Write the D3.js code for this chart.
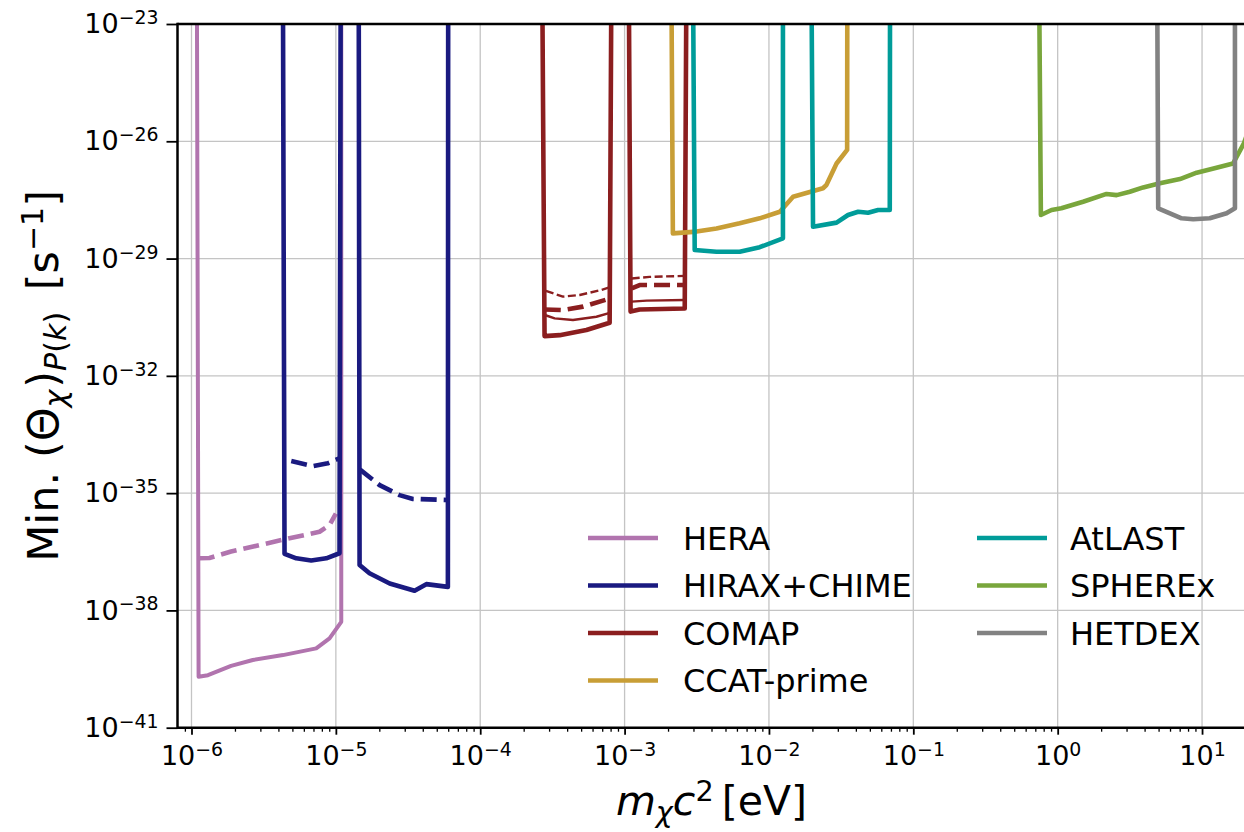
<!DOCTYPE html>
<html>
<head>
<meta charset="utf-8">
<script src="https://cdn.jsdelivr.net/npm/d3@7"></script>
<style>
  body { margin: 0; background: #fff; }
  svg { display: block; }
  text { font-family: 'DejaVu Sans', sans-serif; fill: #000; }
</style>
</head>
<body>
<svg id="chart"></svg>
<script>
/* global d3 */
const labels = ['HERA', 'HIRAX+CHIME', 'COMAP', 'CCAT-prime', 'AtLAST', 'SPHEREx', 'HETDEX']
const colors = ['#b174ae', '#1a1a80', '#8b1e1f', '#c89e36', '#009c99', '#79a63c', '#828282']

// [m c^2 in eV, min Theta in s^-1]; 1e-22 means the edge runs off the top
const heraSolid = [[1.09e-6, 1e-22], [1.12e-6, 2.0e-40], [1.30e-6, 2.2e-40], [1.88e-6, 3.8e-40], [2.66e-6, 5.4e-40],
  [4.30e-6, 7.2e-40], [7.31e-6, 1.07e-39], [9.04e-6, 1.93e-39], [1.09e-5, 5.1e-39], [1.09e-5, 1e-22]]
const heraDash = [[1.12e-6, 2.15e-37], [1.33e-6, 2.2e-37], [1.88e-6, 3.2e-37], [2.96e-6, 4.7e-37], [4.77e-6, 7.0e-37],
  [7.71e-6, 1.03e-36], [9.04e-6, 1.52e-36], [1.0e-5, 3.0e-36]]
const hiraxSolidA = [[4.30e-6, 1e-22], [4.41e-6, 2.8e-37], [5.32e-6, 2.15e-37], [6.75e-6, 1.9e-37], [8.58e-6, 2.15e-37],
  [1.06e-5, 2.9e-37], [1.08e-5, 1e-22]]
const hiraxDashA = [[4.91e-6, 6.6e-35], [6.93e-6, 4.9e-35], [8.8e-6, 5.8e-35], [1.06e-5, 7.8e-35]]
const hiraxSolidB = [[1.44e-5, 1e-22], [1.46e-5, 1.45e-37], [1.71e-5, 8.9e-38], [2.36e-5, 4.9e-38], [3.51e-5, 3.2e-38],
  [4.23e-5, 4.7e-38], [5.97e-5, 4.0e-38], [6.0e-5, 1e-22]]
const hiraxDashB = [[1.47e-5, 4.0e-35], [2.01e-5, 1.6e-35], [2.76e-5, 8.9e-36], [3.42e-5, 7.1e-36], [5.9e-5, 6.7e-36]]
const comapSolidA = [[2.69e-4, 1e-22], [2.79e-4, 1.04e-31], [3.55e-4, 1.1e-31], [5.44e-4, 1.49e-31], [7.88e-4, 2.29e-31], [8.1e-4, 1e-22]]
const comapThinA = [[2.8e-4, 3.6e-31], [3.28e-4, 2.96e-31], [4.39e-4, 2.68e-31], [6.38e-4, 3.25e-31], [7.9e-4, 4.1e-31]]
const comapDashA = [[2.8e-4, 5.0e-31], [3.74e-4, 4.8e-31], [5.15e-4, 5.9e-31], [7.9e-4, 9.5e-31]]
const comapThinDashA = [[2.85e-4, 1.5e-30], [3.74e-4, 1.06e-30], [4.89e-4, 1.17e-30], [6.9e-4, 1.57e-30], [7.9e-4, 1.85e-30]]
const comapSolidB = [[1.07e-3, 1e-22], [1.10e-3, 4.4e-31], [1.27e-3, 5.0e-31], [2.61e-3, 5.3e-31], [2.68e-3, 1e-22]]
const comapThinB = [[1.12e-3, 7.9e-31], [1.42e-3, 8.4e-31], [2.6e-3, 8.7e-31]]
const comapDashB = [[1.12e-3, 1.73e-30], [1.27e-3, 2.1e-30], [2.6e-3, 2.1e-30]]
const comapThinDashB = [[1.12e-3, 3.1e-30], [1.49e-3, 3.4e-30], [2.6e-3, 3.6e-30]]
const ccat = [[2.11e-3, 1e-22], [2.16e-3, 4.4e-29], [3.15e-3, 4.9e-29], [4.33e-3, 5.9e-29], [6.27e-3, 8.0e-29], [8.63e-3, 1.07e-28],
  [1.19e-2, 1.58e-28], [1.47e-2, 3.8e-28], [2.37e-2, 6.3e-28], [2.5e-2, 7.6e-28], [2.94e-2, 2.7e-27], [3.48e-2, 6.0e-27], [3.49e-2, 1e-22]]
const atlastA = [[2.98e-3, 1e-22], [3.06e-3, 1.65e-29], [4.33e-3, 1.5e-29], [6.27e-3, 1.5e-29], [8.63e-3, 1.95e-29], [1.25e-2, 3.3e-29], [1.25e-2, 1e-22]]
const atlastB = [[1.97e-2, 1e-22], [2.02e-2, 6.5e-29], [2.94e-2, 8.3e-29], [3.53e-2, 1.3e-28], [4.15e-2, 1.58e-28], [4.86e-2, 1.49e-28],
  [5.7e-2, 1.75e-28], [6.87e-2, 1.75e-28], [6.9e-2, 1e-22]]
const spherex = [[0.744, 1e-22], [0.765, 1.3e-28], [0.907, 1.75e-28], [1.06, 1.93e-28], [1.50, 2.84e-28], [2.18, 4.5e-28], [2.56, 4.2e-28],
  [3.16, 5.1e-28], [3.91, 6.6e-28], [5.11, 8.4e-28], [7.03, 1.08e-27], [9.18, 1.57e-27], [12.6, 2.1e-27], [16.4, 2.7e-27], [19.5, 8.9e-27], [22, 3e-26]]
const hetdex = [[4.89, 1e-22], [4.97, 1.93e-28], [7.22, 1.07e-28], [8.69, 1.01e-28], [11.3, 1.07e-28], [14.8, 1.44e-28], [16.9, 1.93e-28], [16.9, 1e-22]]

const xExps = [-6, -5, -4, -3, -2, -1, 0, 1]
const yExps = [-41, -38, -35, -32, -29, -26, -23]

const width = 1244
const height = 832
const margin = { top: 24, left: 177.5, bottom: 104.3, right: -1.5 }

const svg = d3.select('#chart').attr('width', width).attr('height', height)

const xScale = d3.scaleLog().domain([8e-7, 20]).range([margin.left, width - margin.right])
const yScale = d3.scaleLog().domain([1e-41, 1e-23]).range([height - margin.bottom, margin.top])
const x0 = margin.left
const x1 = width - margin.right
const y0 = height - margin.bottom
const y1 = margin.top

// grid
const xMajor = xExps.map(e => Math.pow(10, e))
const yMajor = yExps.map(e => Math.pow(10, e))
svg.append('g').selectAll('line').data(xMajor).join('line')
  .attr('x1', d => xScale(d)).attr('x2', d => xScale(d)).attr('y1', y0).attr('y2', y1)
  .attr('stroke', '#c4c4c4').attr('stroke-width', 1.3)
svg.append('g').selectAll('line').data(yMajor).join('line')
  .attr('x1', x0).attr('x2', x1).attr('y1', d => yScale(d)).attr('y2', d => yScale(d))
  .attr('stroke', '#c4c4c4').attr('stroke-width', 1.3)

// curves
svg.append('clipPath').attr('id', 'clip').append('rect')
  .attr('x', x0).attr('y', y1).attr('width', x1 - x0).attr('height', y0 - y1)

const thick = 4.6
const thin = 2.4
const longDash = '16,7'
const shortDash = '8,3.5'
const curves = [
  { d: heraSolid, s: 0, w: 4 }, { d: heraDash, s: 0, w: thick, dash: longDash },
  { d: hiraxSolidA, s: 1, w: thick }, { d: hiraxSolidB, s: 1, w: thick },
  { d: hiraxDashA, s: 1, w: thick, dash: longDash }, { d: hiraxDashB, s: 1, w: thick, dash: longDash },
  { d: comapSolidA, s: 2, w: thick }, { d: comapSolidB, s: 2, w: thick },
  { d: comapThinA, s: 2, w: thin }, { d: comapThinB, s: 2, w: thin },
  { d: comapDashA, s: 2, w: thick, dash: longDash }, { d: comapDashB, s: 2, w: thick, dash: longDash },
  { d: comapThinDashA, s: 2, w: thin, dash: shortDash }, { d: comapThinDashB, s: 2, w: thin, dash: shortDash },
  { d: ccat, s: 3, w: thick },
  { d: atlastA, s: 4, w: thick }, { d: atlastB, s: 4, w: thick },
  { d: spherex, s: 5, w: thick },
  { d: hetdex, s: 6, w: thick }
]

const line = d3.line().x(d => xScale(d[0])).y(d => yScale(d[1]))

svg.append('g').attr('clip-path', 'url(#clip)')
  .selectAll('path').data(curves).join('path')
  .attr('d', c => line(c.d))
  .attr('fill', 'none')
  .attr('stroke', c => colors[c.s])
  .attr('stroke-width', c => c.w)
  .attr('stroke-dasharray', c => c.dash || null)
  .attr('stroke-linejoin', 'round')

// axes
const supLabel = (sel, fontSize) => {
  sel.selectAll('.tick text').each(function (d) {
    const t = d3.select(this).text(null).attr('font-size', fontSize)
    t.append('tspan').text('10')
    t.append('tspan').attr('dy', '-0.48em').attr('font-size', '70%')
      .text(String(Math.round(Math.log10(d))).replace('-', '\u2212'))
  })
}

const xAxis = svg.append('g').attr('transform', `translate(0,${y0})`)
  .call(d3.axisBottom(xScale).tickValues(xMajor).tickSize(7).tickPadding(11))
xAxis.select('.domain').remove()
xAxis.selectAll('.tick line').attr('stroke-width', 1.8)
supLabel(xAxis, 27)
xAxis.selectAll('.tick text').attr('font-family', 'DejaVu Sans')

const xMinor = []
for (let e = -7; e <= 1; e++) {
  for (let k = 2; k <= 9; k++) {
    const v = k * Math.pow(10, e)
    if (v > 8e-7 && v < 20) xMinor.push(v)
  }
}
svg.append('g').attr('transform', `translate(0,${y0})`)
  .call(d3.axisBottom(xScale).tickValues(xMinor).tickSize(4).tickFormat(''))
  .call(g => g.select('.domain').remove())
  .selectAll('.tick line').attr('stroke-width', 1.3)

const yAxis = svg.append('g').attr('transform', `translate(${x0},0)`)
  .call(d3.axisLeft(yScale).tickValues(yMajor).tickSize(11).tickPadding(8))
yAxis.select('.domain').remove()
yAxis.selectAll('.tick line').attr('stroke-width', 1.8)
supLabel(yAxis, 27)
yAxis.selectAll('.tick text').attr('font-family', 'DejaVu Sans')

// spines
svg.append('line').attr('x1', x0).attr('x2', x0).attr('y1', y1 - 1.25).attr('y2', y0 + 1.25).attr('stroke', '#000').attr('stroke-width', 2.5)
svg.append('line').attr('x1', x0).attr('x2', width).attr('y1', y1).attr('y2', y1).attr('stroke', '#000').attr('stroke-width', 2.5)
svg.append('line').attr('x1', x0).attr('x2', width).attr('y1', y0).attr('y2', y0).attr('stroke', '#000').attr('stroke-width', 2.5)

// axis titles
const xt = svg.append('text').attr('x', (x0 + x1) / 2).attr('y', 815).attr('text-anchor', 'middle').attr('font-size', 41)
xt.append('tspan').attr('font-style', 'italic').text('m')
xt.append('tspan').attr('font-style', 'italic').attr('font-size', '70%').attr('dy', '0.25em').text('\u03c7')
xt.append('tspan').attr('font-style', 'italic').attr('dy', '-0.175em').text('c')
xt.append('tspan').attr('font-size', '70%').attr('dy', '-0.5em').text('2')
xt.append('tspan').attr('dy', '0.35em').text('\u2009[eV]')

const yt = svg.append('text').attr('transform', `translate(58,${(y0 + y1) / 2}) rotate(-90)`)
  .attr('text-anchor', 'middle').attr('font-size', 43)
yt.append('tspan').text('Min. (\u0398')
yt.append('tspan').attr('font-style', 'italic').attr('font-size', '70%').attr('dy', '0.25em').text('\u03c7')
yt.append('tspan').attr('dy', '-0.175em').attr('dx', 2).text(')')
yt.append('tspan').attr('font-size', '70%').attr('dy', '0.25em')
  .call(t => {
    t.append('tspan').attr('font-style', 'italic').text('P')
    t.append('tspan').text('(')
    t.append('tspan').attr('font-style', 'italic').text('k')
    t.append('tspan').text(')')
  })
yt.append('tspan').attr('dy', '-0.175em').text('\u2002[s')
yt.append('tspan').attr('font-size', '70%').attr('dy', '-0.5em').text('\u22121')
yt.append('tspan').attr('dy', '0.35em').text(']')

// legend
const legendCols = [{ lx: 588, tx: 683, items: [0, 1, 2, 3] }, { lx: 977, tx: 1070, items: [4, 5, 6] }]
legendCols.forEach(col => {
  col.items.forEach((s, i) => {
    const cy = 538 + i * 47.5
    svg.append('line').attr('x1', col.lx).attr('x2', col.lx + 70).attr('y1', cy).attr('y2', cy)
      .attr('stroke', colors[s]).attr('stroke-width', 4.6)
    svg.append('text').attr('x', col.tx).attr('y', cy + 11.5).attr('font-size', 32).text(labels[s])
  })
})
</script>
</body>
</html>
